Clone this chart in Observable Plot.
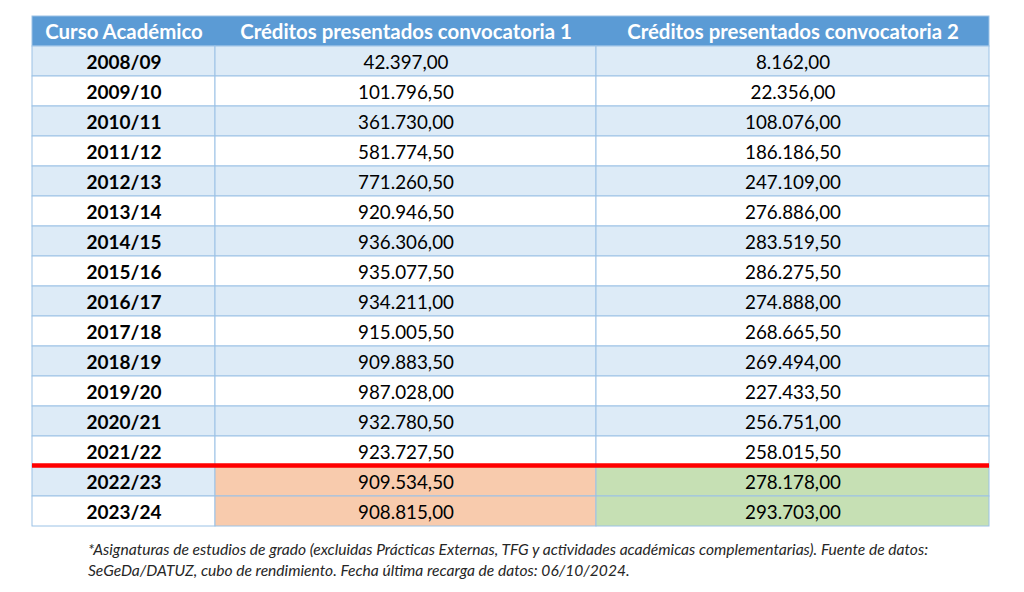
<!DOCTYPE html>
<html>
<head>
<meta charset="utf-8">
<script src="https://cdn.jsdelivr.net/npm/d3@7"></script>
<script src="https://cdn.jsdelivr.net/npm/@observablehq/plot@0.6"></script>
<style>
  html, body { margin: 0; padding: 0; background: #ffffff; }
  #chart svg { display: block; }
  #note {
    font-family: Lato, "Open Sans", sans-serif;
    font-style: italic;
    font-size: 15.6px;
    line-height: 21px;
    color: #262626;
    padding-left: 88px;
    margin-top: 9px;
    white-space: nowrap;
  }
</style>
</head>
<body>
<div id="chart"></div>
<div id="note"></div>
<script>
// ---- data ----
const headers = [
  "Curso Académico",
  "Créditos presentados convocatoria 1",
  "Créditos presentados convocatoria 2"
];
const cursos = [
  "2008/09", "2009/10", "2010/11", "2011/12", "2012/13", "2013/14", "2014/15", "2015/16",
  "2016/17", "2017/18", "2018/19", "2019/20", "2020/21", "2021/22", "2022/23", "2023/24"
];
const convocatoria1 = [
  42397.00, 101796.50, 361730.00, 581774.50, 771260.50, 920946.50, 936306.00, 935077.50,
  934211.00, 915005.50, 909883.50, 987028.00, 932780.50, 923727.50, 909534.50, 908815.00
];
const convocatoria2 = [
  8162.00, 22356.00, 108076.00, 186186.50, 247109.00, 276886.00, 283519.50, 286275.50,
  274888.00, 268665.50, 269494.00, 227433.50, 256751.00, 258015.50, 278178.00, 293703.00
];
const cursosDestacados = ["2022/23", "2023/24"];
const nota = [
  "*Asignaturas de estudios de grado (excluidas Prácticas Externas, TFG y actividades académicas complementarias). Fuente de datos:",
  "SeGeDa/DATUZ, cubo de rendimiento. Fecha última recarga de datos: 06/10/2024."
];

// ---- layout / style ----
const colEdges = [0, 183, 564, 957];
const HEADER = "__header";
const C = {
  header: "#5B9BD5",
  band: "#DDEBF7",
  white: "#FFFFFF",
  border: "#9BC2E6",
  peach: "#F8CBAD",
  green: "#C6E0B4",
  red: "#FF0000"
};

const fmt = d3.formatLocale({decimal: ",", thousands: ".", grouping: [3], currency: ["", ""]}).format(",.2f");

const cells = [];
cursos.forEach((curso, i) => {
  const base = i % 2 === 0 ? C.band : C.white;
  const hl = cursosDestacados.includes(curso);
  const vals = [curso, fmt(convocatoria1[i]), fmt(convocatoria2[i])];
  vals.forEach((t, j) => {
    let fill = base;
    if (hl && j === 1) fill = C.peach;
    if (hl && j === 2) fill = C.green;
    cells.push({row: curso, col: j, text: t, fill, bold: j === 0});
  });
});
const headerCells = headers.map((h, j) => ({row: HEADER, col: j, text: h}));

const x1 = d => colEdges[d.col];
const x2 = d => colEdges[d.col + 1];
const xc = d => (colEdges[d.col] + colEdges[d.col + 1]) / 2;

const plot = Plot.plot({
  width: 1024,
  height: 530,
  marginLeft: 32,
  marginRight: 35,
  marginTop: 16,
  marginBottom: 4,
  style: {fontFamily: "Lato, 'Open Sans', sans-serif", background: "#ffffff"},
  x: {domain: [0, colEdges[colEdges.length - 1]], axis: null},
  y: {type: "band", domain: [HEADER, ...cursos], padding: 0, axis: null},
  marks: [
    // header background
    Plot.barX([{row: HEADER}], {x1: colEdges[0], x2: colEdges[colEdges.length - 1], y: "row", fill: C.header, stroke: C.border, strokeWidth: 1}),
    // body cells
    Plot.barX(cells, {x1, x2, y: "row", fill: "fill", stroke: C.border, strokeWidth: 1}),
    // red separator before highlighted rows
    Plot.ruleY([cursosDestacados[0]], {y: d => d, x1: colEdges[0], x2: colEdges[colEdges.length - 1], stroke: C.red, strokeWidth: 4.5, dy: -16}),
    // header text
    Plot.text(headerCells, {x: xc, y: "row", text: "text", fill: "#ffffff", fontWeight: "bold", fontSize: 20.4, dy: 1}),
    // first column (bold)
    Plot.text(cells.filter(d => d.col === 0), {x: xc, y: "row", text: "text", fill: "#000000", fontWeight: "bold", fontSize: 19, dy: 1}),
    // numeric values
    Plot.text(cells.filter(d => d.col > 0), {x: xc, y: "row", text: "text", fill: "#000000", fontSize: 18.8, dy: 1})
  ]
});
document.getElementById("chart").appendChild(plot);
document.getElementById("note").innerHTML = nota.join("<br>");
</script>
</body>
</html>
